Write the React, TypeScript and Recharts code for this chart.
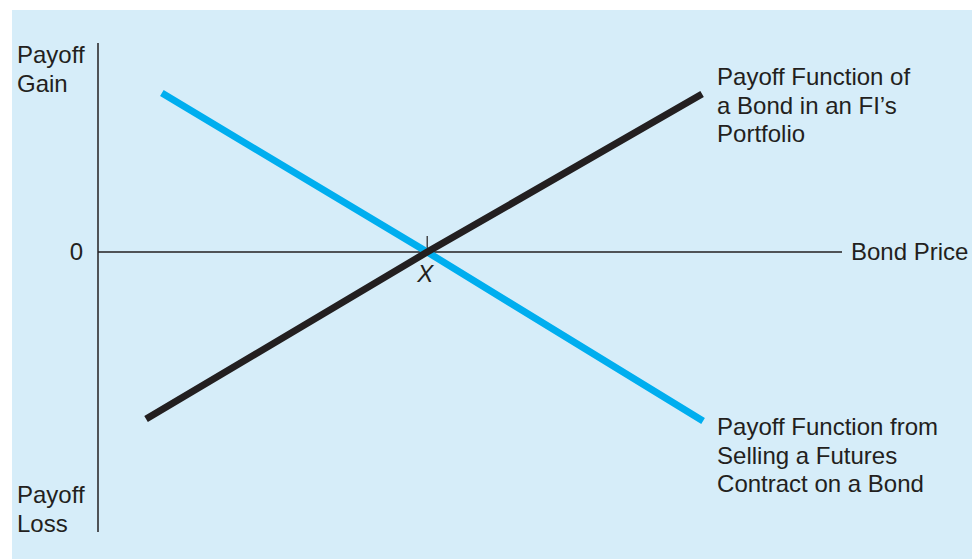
import React from 'react'
import {
  LineChart, Line, XAxis, YAxis, ReferenceLine, ReferenceDot, Label,
} from 'recharts'

// bond price on x (X = strike = 100), payoff on y
const bondPortfolioPrice = [14.6, 100, 183.5]
const bondPortfolioPayoff = [-50.7, 0, 48.0]
const futuresShortPrice = [19.4, 100, 183.8]
const futuresShortPayoff = [48.3, 0, -51.3]

const STRIKE = 100
const X_DOMAIN: [number, number] = [0, 226]
const Y_DOMAIN: [number, number] = [-85, 63.5]

const INK = '#231f20'
const CYAN = '#00aeef'
const BG = '#d6edf9'
const FONT = '"Liberation Sans", Arial, Helvetica, sans-serif'
const FS = 24
const LH = 28.5

const portfolioData = bondPortfolioPrice.map((p, i) => ({ price: p, payoff: bondPortfolioPayoff[i] }))
const futuresData = futuresShortPrice.map((p, i) => ({ price: p, payoff: futuresShortPayoff[i] }))

// multi-line text label drawn relative to a reference dot
function textBlock(lines: string[], dx: number, dy: number, anchor = 'start', italic = false) {
  return (props: any) => {
    const vb = props.viewBox || {}
    const x = (vb.x ?? 0) + (vb.width ?? 0) / 2 + dx
    const y = (vb.y ?? 0) + (vb.height ?? 0) / 2 + dy
    return (
      <text x={x} y={y} fill={INK} fontSize={FS} fontFamily={FONT}
        textAnchor={anchor as any} fontStyle={italic ? 'italic' : 'normal'}>
        {lines.map((l, i) => (
          <tspan key={i} x={x} dy={i === 0 ? 0 : LH}>{l}</tspan>
        ))}
      </text>
    )
  }
}

export default function App() {
  return (
    <div style={{ position: 'absolute', left: 0, top: 0, width: 972, height: 559, background: '#fff' }}>
      <div style={{ position: 'absolute', left: 12, top: 10, width: 960, height: 549, background: BG }} />
      <div style={{ position: 'absolute', left: 0, top: 0 }}>
        <LineChart width={972} height={559} margin={{ left: 98, right: 130, top: 43, bottom: 27 }}>
          <XAxis type="number" dataKey="price" domain={X_DOMAIN} allowDataOverflow hide />
          <YAxis type="number" domain={Y_DOMAIN} allowDataOverflow hide />

          {/* axes */}
          <ReferenceLine x={0} stroke={INK} strokeWidth={1.5} />
          <ReferenceLine y={0} stroke={INK} strokeWidth={1.5} />
          <ReferenceLine segment={[{ x: STRIKE, y: 0 }, { x: STRIKE, y: 4.9 }]} stroke={INK} strokeWidth={1.2} />

          <Line data={futuresData} dataKey="payoff" type="linear" stroke={CYAN} strokeWidth={7}
            dot={false} activeDot={false} isAnimationActive={false} />
          <Line data={portfolioData} dataKey="payoff" type="linear" stroke={INK} strokeWidth={7}
            dot={false} activeDot={false} isAnimationActive={false} />

          {/* labels */}
          <ReferenceDot x={0} y={Y_DOMAIN[1]} r={0} ifOverflow="visible">
            <Label content={textBlock(['Payoff', 'Gain'], -81, 20)} />
          </ReferenceDot>
          <ReferenceDot x={0} y={Y_DOMAIN[0]} r={0} ifOverflow="visible">
            <Label content={textBlock(['Payoff', 'Loss'], -81, -29)} />
          </ReferenceDot>
          <ReferenceDot x={0} y={0} r={0} ifOverflow="visible">
            <Label content={textBlock(['0'], -15, 8, 'end')} />
          </ReferenceDot>
          <ReferenceDot x={STRIKE} y={0} r={0} ifOverflow="visible">
            <Label content={textBlock(['X'], -2, 30, 'middle', true)} />
          </ReferenceDot>
          <ReferenceDot x={X_DOMAIN[1]} y={0} r={0} ifOverflow="visible">
            <Label content={textBlock(['Bond Price'], 9, 8)} />
          </ReferenceDot>
          <ReferenceDot x={bondPortfolioPrice[2]} y={bondPortfolioPayoff[2]} r={0} ifOverflow="visible">
            <Label content={textBlock(['Payoff Function of', 'a Bond in an FI\u2019s', 'Portfolio'], 15, -9)} />
          </ReferenceDot>
          <ReferenceDot x={futuresShortPrice[2]} y={futuresShortPayoff[2]} r={0} ifOverflow="visible">
            <Label content={textBlock(['Payoff Function from', 'Selling a Futures', 'Contract on a Bond'], 14, 14)} />
          </ReferenceDot>
        </LineChart>
      </div>
    </div>
  )
}
